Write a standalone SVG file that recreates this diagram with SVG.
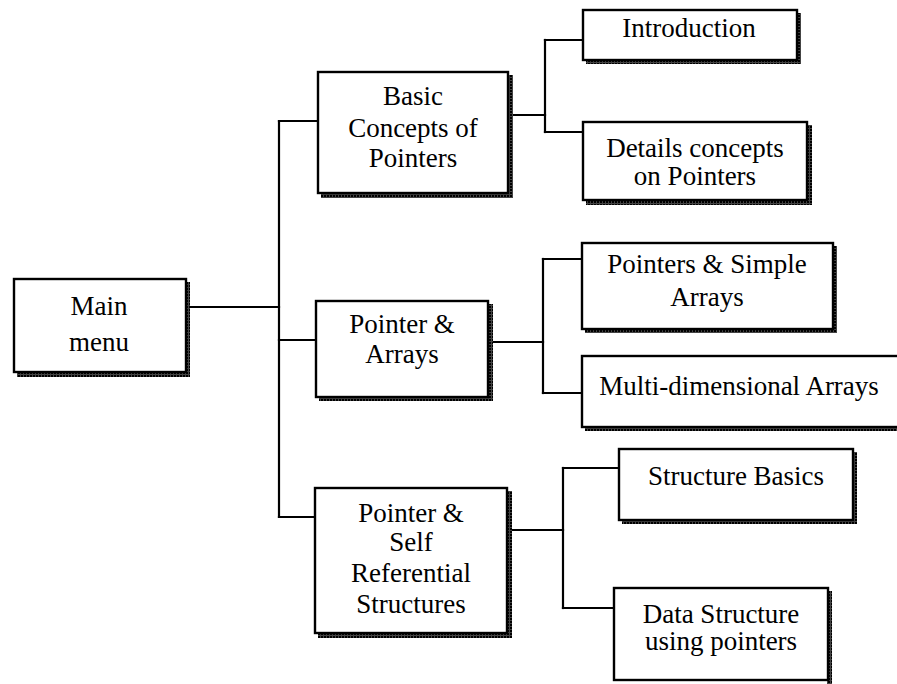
<svg xmlns="http://www.w3.org/2000/svg" width="897" height="684" viewBox="0 0 897 684">
  <defs>
    <!-- speckled fill used for the drop-shadow edges of each box -->
    <pattern id="grain" width="3" height="3" patternUnits="userSpaceOnUse">
      <rect width="3" height="3" fill="#444"/>
      <rect width="2" height="2" fill="#000"/>
    </pattern>
  </defs>
  <style>
    .box { fill: #fff; stroke: #000; stroke-width: 2.4; }
    .shade { fill: url(#grain); }
    .lbl { font-family: "Liberation Serif", "Times New Roman", serif; font-size: 27px; fill: #000; text-anchor: middle; }
    .wire { fill: none; stroke: #000; stroke-width: 2.2; stroke-linecap: square; }
  </style>
  <rect width="897" height="684" fill="#fff"/>

  <!-- connectors -->
  <g id="connectors">
    <path class="wire" d="M186,307 H279"/>
    <path class="wire" d="M279,121 V517"/>
    <path class="wire" d="M279,121 H318"/>
    <path class="wire" d="M279,340 H316"/>
    <path class="wire" d="M279,517 H315"/>
    <path class="wire" d="M513,115 H545"/>
    <path class="wire" d="M545,40 V132"/>
    <path class="wire" d="M545,40 H583"/>
    <path class="wire" d="M545,132 H583"/>
    <path class="wire" d="M492,342 H543"/>
    <path class="wire" d="M543,259 V393"/>
    <path class="wire" d="M543,259 H582"/>
    <path class="wire" d="M543,393 H582"/>
    <path class="wire" d="M511,530 H563"/>
    <path class="wire" d="M563,468 V608"/>
    <path class="wire" d="M563,468 H619"/>
    <path class="wire" d="M563,608 H614"/>
  </g>

  <g id="main-menu">
    <rect class="shade" x="184" y="282" width="6" height="95"/>
    <rect class="shade" x="17" y="371" width="173" height="6"/>
    <rect class="box" x="14" y="279" width="172" height="93"/>
    <text class="lbl" x="99" y="315">Main</text>
    <text class="lbl" x="99" y="351">menu</text>
  </g>

  <g id="basic-concepts">
    <rect class="shade" x="507" y="75" width="6" height="123"/>
    <rect class="shade" x="321" y="192" width="192" height="6"/>
    <rect class="box" x="318" y="72" width="190" height="121"/>
    <text class="lbl" x="413" y="105">Basic</text>
    <text class="lbl" x="413" y="137">Concepts of</text>
    <text class="lbl" x="413" y="167">Pointers</text>
  </g>

  <g id="introduction">
    <rect class="shade" x="796" y="13" width="5" height="51"/>
    <rect class="shade" x="586" y="59" width="215" height="5"/>
    <rect class="box" x="583" y="10" width="214" height="50"/>
    <text class="lbl" x="689" y="37">Introduction</text>
  </g>

  <g id="details-concepts">
    <rect class="shade" x="806" y="125" width="6" height="80"/>
    <rect class="shade" x="586" y="199" width="226" height="6"/>
    <rect class="box" x="583" y="122" width="224" height="78"/>
    <text class="lbl" x="695" y="157">Details concepts</text>
    <text class="lbl" x="695" y="185">on Pointers</text>
  </g>

  <g id="pointer-arrays">
    <rect class="shade" x="487" y="304" width="6" height="97"/>
    <rect class="shade" x="319" y="396" width="174" height="5"/>
    <rect class="box" x="316" y="301" width="172" height="96"/>
    <text class="lbl" x="402" y="333">Pointer &amp;</text>
    <text class="lbl" x="402" y="363">Arrays</text>
  </g>

  <g id="pointers-simple-arrays">
    <rect class="shade" x="832" y="246" width="5" height="87"/>
    <rect class="shade" x="585" y="328" width="252" height="5"/>
    <rect class="box" x="582" y="243" width="251" height="86"/>
    <text class="lbl" x="707" y="273">Pointers &amp; Simple</text>
    <text class="lbl" x="707" y="306">Arrays</text>
  </g>

  <g id="multi-dimensional-arrays">
    <rect class="shade" x="585" y="426" width="320" height="5"/>
    <rect class="box" x="582" y="356" width="330" height="71"/>
    <text class="lbl" x="739" y="395">Multi-dimensional Arrays</text>
  </g>

  <g id="self-referential">
    <rect class="shade" x="506" y="491" width="6" height="147"/>
    <rect class="shade" x="318" y="632" width="194" height="6"/>
    <rect class="box" x="315" y="488" width="192" height="145"/>
    <text class="lbl" x="411" y="522">Pointer &amp;</text>
    <text class="lbl" x="411" y="551">Self</text>
    <text class="lbl" x="411" y="582">Referential</text>
    <text class="lbl" x="411" y="613">Structures</text>
  </g>

  <g id="structure-basics">
    <rect class="shade" x="852" y="452" width="5" height="72"/>
    <rect class="shade" x="622" y="519" width="235" height="5"/>
    <rect class="box" x="619" y="449" width="234" height="71"/>
    <text class="lbl" x="736" y="485">Structure Basics</text>
  </g>

  <g id="data-structure">
    <rect class="shade" x="827" y="591" width="5" height="93"/>
    <rect class="box" x="614" y="588" width="214" height="92"/>
    <text class="lbl" x="721" y="623">Data Structure</text>
    <text class="lbl" x="721" y="650">using pointers</text>
  </g>
</svg>
